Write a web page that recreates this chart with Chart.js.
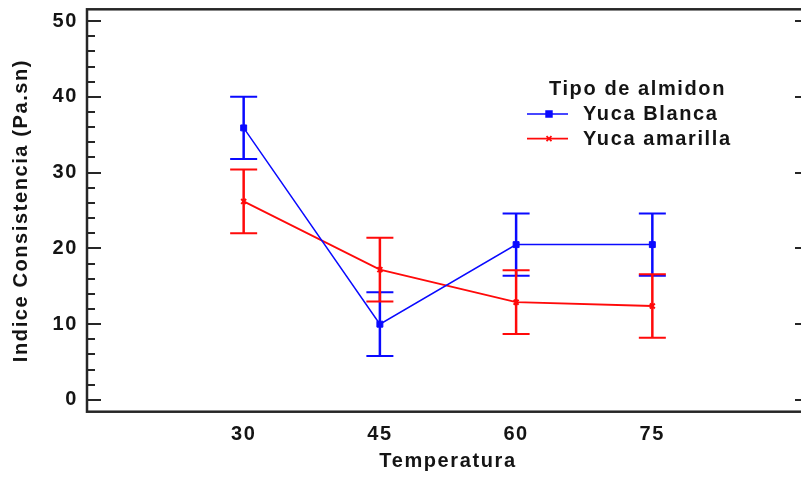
<!DOCTYPE html>
<html>
<head>
<meta charset="utf-8">
<script src="https://cdn.jsdelivr.net/npm/chart.js@4.4.1/dist/chart.umd.min.js"></script>
<style>
  html, body { margin: 0; padding: 0; background: #fff; overflow: hidden; }
  #wrap { width: 801px; height: 479px; overflow: hidden; }
  #box { width: 815px; height: 479px; position: relative; }
</style>
</head>
<body>
<div id="wrap"><div id="box"><canvas id="myChart-consistencia"></canvas></div></div>
<script>
// Indice de consistencia por temperatura y tipo de almidon (media +/- error)
const temperaturas = [30, 45, 60, 75];
const blancaMedia = [35.9, 10.0, 20.5, 20.5];
const blancaError = [4.1, 4.2, 4.1, 4.1];
const amarillaMedia = [26.2, 17.2, 12.9, 12.4];
const amarillaError = [4.2, 4.2, 4.2, 4.2];
const yTicks = [0, 10, 20, 30, 40, 50];
const xLimits = [12.75, 92.25];
const yLimits = [-1.55, 51.55];

const txtColor = "#141414";
const axisColor = "#262626";
const fontFam = "'Liberation Sans', Arial, sans-serif";
const ctxDiv = document.getElementById("myChart-consistencia");

// wider letter spacing for all the chart text
const spacing = {
    id: "spacing",
    beforeDraw(chart) { chart.ctx.letterSpacing = "1.6px"; }
};

// box around the plot + inward ticks on left and right
const frame = {
    id: "frame",
    beforeDatasetsDraw(chart) {
        const { ctx, chartArea: a, scales: { y } } = chart;
        ctx.save();
        ctx.strokeStyle = axisColor;
        ctx.lineWidth = 2.5;
        ctx.strokeRect(a.left, a.top, a.right - a.left, a.bottom - a.top);
        ctx.lineWidth = 2;
        for (let v = 0; v <= 50; v += 2) {
            const py = Math.round(y.getPixelForValue(v));
            const len = v % 10 === 0 ? 14 : 8;
            ctx.beginPath();
            ctx.moveTo(a.left, py); ctx.lineTo(a.left + len, py);
            ctx.moveTo(a.right, py); ctx.lineTo(a.right - len, py);
            ctx.stroke();
        }
        ctx.restore();
    }
};

// vertical error bars with caps
const errorBars = {
    id: "errorBars",
    afterDatasetsDraw(chart) {
        const { ctx, scales: { x, y } } = chart;
        ctx.save();
        chart.data.datasets.forEach(ds => {
            ctx.strokeStyle = ds.borderColor;
            ds.data.forEach((p, i) => {
                const px = x.getPixelForValue(p.x);
                const top = y.getPixelForValue(p.y + ds.errores[i]);
                const bot = y.getPixelForValue(p.y - ds.errores[i]);
                ctx.lineWidth = 2.5;
                ctx.beginPath();
                ctx.moveTo(px, top); ctx.lineTo(px, bot);
                ctx.stroke();
                ctx.lineWidth = 2;
                ctx.beginPath();
                ctx.moveTo(px - 13.5, top); ctx.lineTo(px + 13.5, top);
                ctx.moveTo(px - 13.5, bot); ctx.lineTo(px + 13.5, bot);
                ctx.stroke();
            });
        });
        ctx.restore();
    }
};

// legend with title, line sample and marker
const almidonLegend = {
    id: "almidonLegend",
    afterDraw(chart) {
        const { ctx } = chart;
        ctx.save();
        ctx.font = "bold 20px " + fontFam;
        ctx.fillStyle = txtColor;
        ctx.textBaseline = "middle";
        ctx.textAlign = "left";
        ctx.fillText("Tipo de almidon", 549, 89);
        chart.data.datasets.forEach((ds, i) => {
            const ly = 114 + i * 24.6;
            ctx.strokeStyle = ds.borderColor;
            ctx.lineWidth = ds.borderWidth;
            ctx.beginPath();
            ctx.moveTo(527, ly); ctx.lineTo(568, ly);
            ctx.stroke();
            Chart.helpers.drawPoint(ctx, {
                pointStyle: ds.pointStyle, radius: ds.pointRadius, borderWidth: ds.pointBorderWidth
            }, 549, ly);
            ctx.fillStyle = ds.borderColor;
            if (ds.pointStyle === "rect") ctx.fill();
            ctx.fillStyle = txtColor;
            ctx.fillText(ds.label, 583, ly + 0.5);
        });
        ctx.restore();
    }
};

new Chart(ctxDiv, {
    type: "line",
    data: {
        datasets: [{
            label: "Yuca Blanca",
            data: temperaturas.map((t, i) => ({ x: t, y: blancaMedia[i] })),
            errores: blancaError,
            borderColor: "#0a0aff",
            backgroundColor: "#0a0aff",
            borderWidth: 1.5,
            pointStyle: "rect",
            pointRadius: 4.2,
            pointBorderWidth: 1,
            tension: 0
        }, {
            label: "Yuca amarilla",
            data: temperaturas.map((t, i) => ({ x: t, y: amarillaMedia[i] })),
            errores: amarillaError,
            borderColor: "#ff0a0a",
            backgroundColor: "#ff0a0a",
            borderWidth: 1.8,
            pointStyle: "crossRot",
            pointRadius: 3.5,
            pointBorderWidth: 2,
            tension: 0
        }]
    },
    options: {
        animation: false,
        responsive: true,
        maintainAspectRatio: false,
        layout: { padding: { top: 9.3, right: 4, left: 0, bottom: 0 } },
        plugins: {
            legend: { display: false },
            tooltip: { enabled: false }
        },
        scales: {
            x: {
                type: "linear",
                min: xLimits[0],
                max: xLimits[1],
                afterBuildTicks: s => { s.ticks = temperaturas.map(v => ({ value: v })); },
                afterFit: s => { s.height = 67.3; s.paddingLeft = 0; s.paddingRight = 0; },
                grid: { display: false, drawTicks: false },
                border: { display: false },
                ticks: {
                    color: txtColor,
                    padding: 11,
                    font: { family: fontFam, size: 20, weight: "bold" }
                },
                title: {
                    display: true,
                    text: "Temperatura",
                    color: txtColor,
                    padding: { top: 0, bottom: 5.5 },
                    font: { family: fontFam, size: 20, weight: "bold" }
                }
            },
            y: {
                min: yLimits[0],
                max: yLimits[1],
                afterBuildTicks: s => { s.ticks = yTicks.map(v => ({ value: v })); },
                afterFit: s => { s.width = 87; s.paddingTop = 0; s.paddingBottom = 0; },
                grid: { display: false, drawTicks: false },
                border: { display: false },
                ticks: {
                    color: txtColor,
                    padding: 9,
                    font: { family: fontFam, size: 20, weight: "bold" }
                },
                title: {
                    display: true,
                    text: "Indice Consistencia (Pa.sn)",
                    color: txtColor,
                    padding: { top: 9.5, bottom: 0 },
                    font: { family: fontFam, size: 20, weight: "bold" }
                }
            }
        }
    },
    plugins: [spacing, frame, errorBars, almidonLegend]
});
</script>
</body>
</html>
